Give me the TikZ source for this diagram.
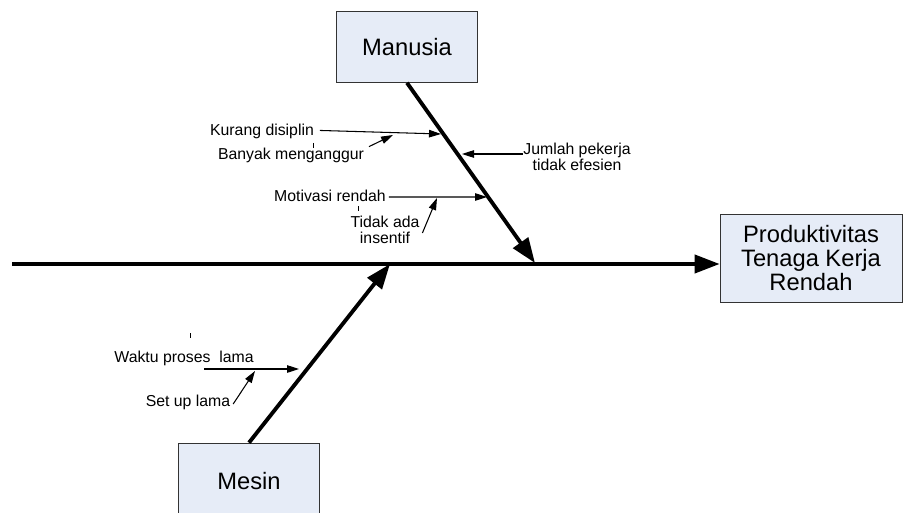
\documentclass[tikz,border=0pt]{standalone}
\usepackage{fontspec}
\setmainfont{Liberation Sans}
\usetikzlibrary{arrows.meta}
\definecolor{boxfill}{HTML}{E6ECF7}

\begin{document}
\begin{tikzpicture}[x=0.02cm,y=-0.02cm,
    causebox/.style={draw=black!80,fill=boxfill,minimum width=2.82cm,minimum height=1.42cm,
      align=center,font=\fontsize{13.5}{13.4}\selectfont},
    lbl/.style={font=\fontsize{9}{9.2}\selectfont,align=center,inner sep=1.5pt},
    bone/.style={line width=2.2pt,-{Triangle[length=0.5cm,width=0.36cm]}},
    sub/.style={line width=0.6pt,-{Triangle[length=0.24cm,width=0.15cm]}},
    tick/.style={line width=0.5pt}]
  \useasboundingbox (0,0) rectangle (905,513);
  % boxes
  \node[causebox] (manusia) at (407,47) {Manusia};
  \node[causebox,minimum width=3.64cm,minimum height=1.76cm] (effect) at (811,258)
    {Produktivitas\\Tenaga Kerja\\Rendah};
  \node[causebox,minimum height=1.52cm] (mesin) at (249,481) {Mesin};
  % spine and bones
  \coordinate (tail) at (12,264);
  \coordinate (mjoin) at (535,263);
  \coordinate (sjoin) at (390,264);
  \draw[bone] (tail) -- (tail -| effect.west);
  \draw[bone] (manusia.south) -- (mjoin);
  \draw[bone] (mesin.north) -- (sjoin);
  % manusia causes
  \node[lbl] (kurang) at (262,131) {Kurang disiplin};
  \node[lbl] (banyak) at (291,155) {Banyak menganggur};
  \node[lbl] (jumlah) at (577,157) {Jumlah pekerja\\tidak efesien};
  \node[lbl] (motivasi) at (330,196) {Motivasi rendah};
  \node[lbl] (tidak) at (385,230) {Tidak ada\\insentif};
  \coordinate (k1) at (441,134);
  \coordinate (k2) at (393,135);
  \coordinate (j0) at (523,154);
  \coordinate (j1) at (462,154);
  \coordinate (m1) at (487,197);
  \coordinate (m2) at (437,198);
  \draw[sub] (kurang.mid east) ++(3,0) -- (k1);
  \draw[sub] (banyak.north east) ++(2,2) -- (k2);
  \draw[sub] (j0) -- (j1);
  \draw[sub] (motivasi.mid east) -- (m1);
  \draw[sub] (tidak.east) ++(0,3) -- (m2);
  % mesin causes
  \node[lbl] (waktu) at (184,358) {Waktu proses\ \ lama};
  \node[lbl] (setup) at (188,402) {Set up lama};
  \coordinate (w0) at (204,369);
  \coordinate (w1) at (299,369);
  \coordinate (w2) at (255,371);
  \draw[sub] (w0) -- (w1);
  \draw[sub] (setup.east) ++(0,2) -- (w2);
  % stray marks
  \draw[tick] (313,143) -- (313,148);
  \draw[tick] (358,206) -- (358,211);
  \draw[tick] (190,333) -- (190,338);
\end{tikzpicture}
\end{document}
